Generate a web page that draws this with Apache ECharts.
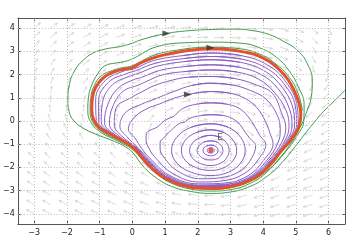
<!DOCTYPE html>
<html><head><meta charset="utf-8">
<script src="https://cdn.jsdelivr.net/npm/echarts@6/dist/echarts.min.js"></script>
<style>html,body{margin:0;padding:0;background:#fff}#c{width:351px;height:248px}</style>
</head><body><div id="c"></div>
<script>
const xTicks=[-3,-2,-1,0,1,2,3,4,5,6];
const yTicks=[-4,-3,-2,-1,0,1,2,3,4];
const equilibrium=[2.4,-1.27];
const limitCycle=[[2.4,3.11],[2.9,3.08],[3.4,2.98],[3.8,2.84],[4.2,2.55],[4.5,2.2],[4.75,1.8],[4.95,1.3],[5.1,0.75],[5.15,0.3],[5.12,-0.1],[5.0,-0.5],[4.8,-0.9],[4.55,-1.3],[4.3,-1.75],[4.05,-2.12],[3.75,-2.45],[3.4,-2.68],[3.0,-2.83],[2.5,-2.91],[2.0,-2.89],[1.5,-2.76],[1.0,-2.48],[0.6,-2.05],[0.3,-1.6],[0.05,-1.18],[-0.3,-0.85],[-0.7,-0.55],[-1.0,-0.3],[-1.18,0.05],[-1.24,0.5],[-1.22,1.0],[-1.12,1.45],[-0.9,1.85],[-0.6,2.1],[-0.3,2.22],[0.0,2.3],[0.25,2.5],[0.6,2.7],[1.0,2.86],[1.5,3.0],[2.0,3.08],[2.4,3.11]];
const spiralLoops=[
[[2.4,-1.16],[2.45,-1.17],[2.49,-1.21],[2.5,-1.27],[2.49,-1.33],[2.45,-1.37],[2.4,-1.38],[2.34,-1.37],[2.3,-1.33],[2.29,-1.27],[2.3,-1.21],[2.34,-1.17]],
[[2.4,-1.04],[2.51,-1.07],[2.59,-1.15],[2.62,-1.27],[2.59,-1.39],[2.51,-1.47],[2.4,-1.5],[2.28,-1.47],[2.19,-1.39],[2.16,-1.27],[2.19,-1.15],[2.28,-1.07]],
[[2.4,-0.86],[2.59,-0.91],[2.72,-1.07],[2.77,-1.27],[2.72,-1.47],[2.59,-1.63],[2.4,-1.68],[2.19,-1.63],[2.04,-1.47],[1.98,-1.27],[2.04,-1.07],[2.19,-0.91]],
[[2.4,-0.62],[2.68,-0.71],[2.88,-0.95],[2.96,-1.27],[2.88,-1.6],[2.68,-1.83],[2.4,-1.92],[2.08,-1.83],[1.84,-1.6],[1.75,-1.27],[1.84,-0.95],[2.08,-0.71]],
[[2.4,-0.38],[2.8,-0.5],[3.08,-0.83],[3.19,-1.27],[3.08,-1.7],[2.8,-2.01],[2.4,-2.13],[1.95,-2.01],[1.62,-1.7],[1.5,-1.27],[1.62,-0.83],[1.95,-0.5]],
[[2.4,-0.12],[2.93,-0.27],[3.31,-0.7],[3.45,-1.27],[3.31,-1.81],[2.93,-2.21],[2.4,-2.35],[1.8,-2.21],[1.36,-1.81],[1.2,-1.27],[1.36,-0.7],[1.8,-0.27]],
[[2.4,0.27],[2.76,0.24],[3.05,0.11],[3.27,-0.13],[3.45,-0.48],[3.6,-0.76],[3.77,-1.06],[3.65,-1.59],[3.35,-2.1],[2.84,-2.41],[2.1,-2.49],[1.38,-2.15],[0.93,-1.5],[0.85,-1.21],[0.85,-0.91],[0.95,-0.74],[1.13,-0.48],[1.31,-0.24],[1.48,-0.08],[1.58,-0.06],[1.77,0.12],[2.08,0.23]],
[[2.4,0.78],[2.87,0.73],[3.26,0.55],[3.53,0.2],[3.75,-0.26],[3.9,-0.63],[4.08,-1.01],[3.86,-1.64],[3.48,-2.21],[2.89,-2.55],[2.06,-2.63],[1.24,-2.27],[0.68,-1.54],[0.52,-1.2],[0.42,-0.81],[0.43,-0.54],[0.77,-0.25],[1.01,0.04],[1.27,0.2],[1.34,0.3],[1.57,0.56],[1.98,0.73]],
[[2.4,1.27],[2.98,1.2],[3.45,0.97],[3.81,0.57],[4.07,-0.02],[4.2,-0.5],[4.3,-0.98],[4.02,-1.68],[3.59,-2.31],[2.93,-2.66],[2.04,-2.71],[1.15,-2.35],[0.51,-1.57],[0.29,-1.19],[0.08,-0.73],[-0.12,-0.34],[0.08,0.18],[0.48,0.55],[0.84,0.74],[0.99,0.83],[1.36,1.02],[1.88,1.19]],
[[2.4,1.63],[3.06,1.55],[3.62,1.31],[4.09,0.94],[4.43,0.25],[4.52,-0.36],[4.45,-0.95],[4.11,-1.7],[3.64,-2.35],[2.95,-2.71],[2.03,-2.76],[1.11,-2.38],[0.45,-1.58],[0.2,-1.19],[-0.17,-0.67],[-0.38,-0.24],[-0.21,0.36],[0.29,0.73],[0.69,0.95],[0.85,1.04],[1.25,1.26],[1.81,1.53]],
[[2.4,1.92],[3.13,1.83],[3.74,1.58],[4.28,1.19],[4.56,0.35],[4.69,-0.29],[4.56,-0.94],[4.16,-1.72],[3.67,-2.38],[2.96,-2.74],[2.03,-2.79],[1.08,-2.41],[0.41,-1.58],[0.16,-1.18],[-0.33,-0.64],[-0.55,-0.18],[-0.5,0.55],[-0.02,1.02],[0.39,1.33],[0.56,1.46],[1.05,1.7],[1.73,1.89]],
[[2.4,2.2],[3.2,2.11],[3.85,1.81],[4.33,1.25],[4.7,0.45],[4.79,-0.24],[4.63,-0.93],[4.2,-1.73],[3.69,-2.39],[2.97,-2.76],[2.02,-2.81],[1.07,-2.42],[0.38,-1.59],[0.13,-1.18],[-0.44,-0.61],[-0.7,-0.13],[-0.6,0.61],[-0.29,1.27],[0.21,1.56],[0.41,1.69],[0.92,1.99],[1.68,2.14]],
[[2.4,2.42],[3.25,2.32],[3.94,2.0],[4.45,1.4],[4.8,0.53],[4.88,-0.21],[4.68,-0.92],[4.23,-1.73],[3.7,-2.41],[2.98,-2.78],[2.02,-2.83],[1.05,-2.44],[0.36,-1.59],[0.11,-1.18],[-0.53,-0.59],[-0.85,-0.07],[-0.75,0.71],[-0.44,1.41],[0.04,1.78],[0.28,1.88],[0.84,2.18],[1.64,2.35]],
[[2.4,2.64],[3.3,2.53],[4.02,2.17],[4.54,1.52],[4.9,0.6],[4.96,-0.17],[4.72,-0.91],[4.25,-1.74],[3.72,-2.42],[2.99,-2.79],[2.01,-2.85],[1.03,-2.45],[0.34,-1.59],[0.09,-1.18],[-0.58,-0.58],[-0.95,-0.03],[-0.91,0.8],[-0.6,1.57],[-0.08,1.93],[0.17,2.04],[0.75,2.36],[1.59,2.56]],
[[2.4,2.78],[3.33,2.67],[4.08,2.29],[4.62,1.63],[4.98,0.66],[5.02,-0.14],[4.75,-0.91],[4.27,-1.74],[3.73,-2.43],[2.99,-2.8],[2.01,-2.86],[1.03,-2.46],[0.33,-1.6],[0.08,-1.18],[-0.62,-0.57],[-1.03,-0.01],[-1.03,0.88],[-0.72,1.68],[-0.17,2.05],[0.09,2.16],[0.7,2.49],[1.57,2.69]],
[[2.4,2.93],[3.36,2.81],[4.14,2.41],[4.68,1.71],[5.03,0.7],[5.07,-0.12],[4.77,-0.9],[4.28,-1.75],[3.74,-2.44],[2.99,-2.81],[2.0,-2.87],[1.01,-2.47],[0.32,-1.6],[0.07,-1.18],[-0.65,-0.56],[-1.1,0.02],[-1.12,0.94],[-0.81,1.76],[-0.25,2.16],[0.04,2.24],[0.64,2.6],[1.54,2.82]]
];
const greenPath=[[6.5,1.33],[6.2,0.9],[5.85,0.42],[5.54,-0.09],[5.25,-0.6],[4.95,-1.15],[4.6,-1.75],[4.15,-2.35],[3.6,-2.82],[3.0,-3.06],[2.4,-3.12],[1.8,-3.04],[1.2,-2.82],[0.7,-2.42],[0.3,-1.9],[0.05,-1.42],[-0.2,-1.12],[-0.55,-0.88],[-1.0,-0.63],[-1.45,-0.35],[-1.78,0.0],[-1.93,0.4],[-1.97,0.9],[-1.92,1.6],[-1.75,2.2],[-1.5,2.62],[-1.2,2.93],[-0.83,3.1],[-0.24,3.25],[0.36,3.54],[1.04,3.77],[1.7,3.89],[2.34,3.94],[3.07,3.96],[3.66,3.9],[4.2,3.72],[4.6,3.45],[5.05,3.04],[5.35,2.47],[5.5,1.7],[5.47,1.04],[5.33,0.4],[5.12,-0.3],[4.85,-0.95],[4.5,-1.6],[4.05,-2.28],[3.55,-2.72],[3.0,-2.96],[2.4,-3.02],[1.8,-2.94],[1.2,-2.68],[0.75,-2.28],[0.35,-1.72],[0.02,-1.24],[-0.45,-0.86],[-0.95,-0.5],[-1.27,-0.05],[-1.36,0.5],[-1.34,1.0],[-1.24,1.55],[-1.05,2.05],[-0.84,2.38],[-0.5,2.5],[-0.24,2.56],[0.05,2.71],[0.74,3.2],[1.75,3.38],[2.4,3.4],[3.34,3.35],[3.9,3.15],[4.4,2.75],[4.8,2.15],[5.1,1.4],[5.25,0.7],[5.24,0.0],[5.05,-0.6],[4.7,-1.3],[4.2,-2.05],[3.6,-2.6],[3.0,-2.87],[2.4,-2.94],[1.8,-2.86],[1.2,-2.58],[0.7,-2.12],[0.35,-1.65],[0.05,-1.2],[-0.4,-0.84],[-0.9,-0.48],[-1.22,-0.02],[-1.29,0.5],[-1.27,1.0],[-1.17,1.5],[-0.95,1.95],[-0.6,2.18],[-0.3,2.3],[0.0,2.38],[0.6,2.8],[1.2,3.02],[2.4,3.18],[3.2,3.13],[3.9,2.88],[4.35,2.5],[4.8,1.88],[5.05,1.25],[5.2,0.45]];
const flowArrows=[[1.04,3.77],[2.39,3.16],[1.7,1.14]];
const fieldX=[-3,-2.5,-2,-1.5,-1,-0.5,0,0.5,1,1.5,2,2.5,3,3.5,4,4.5,5,5.5,6];
const fieldY=[-4,-3.6,-3.2,-2.8,-2.4,-2,-1.6,-1.2,-0.8,-0.4,0,0.4,0.8,1.2,1.6,2,2.4,2.8,3.2,3.6,4];
const fieldAngles=[
[152,150,148,145,142,139,135,130,124,118,111,103,94,86,77,69,62,56,50,45,41],
[153,151,149,146,143,139,135,129,123,116,107,98,89,79,70,62,55,49,44,40,36],
[155,153,150,147,144,140,135,129,121,113,103,93,82,72,63,55,48,43,38,35,31],
[156,154,151,148,145,140,134,128,119,109,98,85,74,63,54,47,41,37,33,29,27],
[158,155,153,150,146,141,134,126,116,104,90,76,64,54,46,40,35,31,27,25,22],
[159,157,154,151,147,141,134,124,111,96,80,65,53,44,37,32,28,25,22,20,18],
[162,160,157,153,149,142,133,121,104,85,67,52,42,34,29,25,22,19,17,16,14],
[164,162,159,155,150,142,131,113,90,66,49,37,30,25,21,18,16,14,13,12,11],
[167,165,163,159,154,146,131,106,74,49,34,26,21,17,15,13,11,10,9,8,8],
[171,170,168,165,161,153,136,97,51,30,21,16,13,11,9,8,7,6,6,5,5],
[176,175,174,173,171,166,151,75,23,13,9,7,5,4,4,3,3,3,2,2,2],
[181,181,182,182,183,184,189,333,354,357,358,358,359,359,359,359,359,359,359,359,359],
[186,187,188,191,194,201,220,280,327,341,347,350,352,353,354,355,355,356,356,357,357],
[190,192,194,197,201,209,224,254,295,321,333,340,344,347,349,350,351,352,353,353,354],
[193,195,197,200,203,209,218,232,256,284,308,322,331,337,340,343,345,347,348,349,350],
[194,196,198,200,203,207,212,220,232,249,270,291,308,320,328,333,336,338,340,341,342],
[194,195,197,198,200,203,206,210,215,222,232,245,261,279,295,308,315,319,323,326,330],
[194,195,196,197,199,201,203,205,208,212,217,223,231,242,255,270,284,295,303,310,315],
[196,197,198,199,200,202,204,206,208,211,214,218,223,230,238,247,257,267,276,284,292]
];

const fieldData=[];
fieldX.forEach((x,i)=>fieldY.forEach((y,j)=>fieldData.push([x,y,fieldAngles[i][j]])));
// each orbit drawn as a closed ring (last point wraps to the first ones), rings separated by gaps
const orbitRings=[];
spiralLoops.forEach(l=>{
  orbitRings.push(l[l.length-1]);
  l.forEach(p=>orbitRings.push(p));
  orbitRings.push(l[0]);
  orbitRings.push(l[1]);
  orbitRings.push('-');
});

function renderArrow(params,api){
  const p=api.coord([api.value(0),api.value(1)]);
  const sz=api.size([1,1]);
  const th=api.value(2)*Math.PI/180;
  const c=Math.cos(th),s=Math.sin(th);
  const L=0.3/Math.sqrt((c/sz[0])*(c/sz[0])+(s/sz[1])*(s/sz[1]));
  const tip=[p[0]+L*c,p[1]-L*s];
  const hl=L*0.33,a=0.45;
  const b1=[tip[0]-hl*Math.cos(th-a),tip[1]+hl*Math.sin(th-a)];
  const b2=[tip[0]-hl*Math.cos(th+a),tip[1]+hl*Math.sin(th+a)];
  const st={stroke:'#d2d2d2',lineWidth:0.75,fill:null};
  return {type:'group',children:[
    {type:'polyline',shape:{points:[p,tip]},style:st},
    {type:'polyline',shape:{points:[b1,tip,b2]},style:st}
  ]};
}

const chart=echarts.init(document.getElementById('c'),null,{renderer:'canvas'});
const axisCol='#555';
const fmt=v=>String(v).replace('-','\u2212');
function gridLines(){
  const d=[];
  xTicks.forEach(v=>d.push({xAxis:v}));
  yTicks.forEach(v=>d.push({yAxis:v}));
  return d;
}
chart.setOption({
  animation:false,
  grid:{left:11,right:6,top:18,bottom:24},
  xAxis:[
   {type:'value',min:-3.5,max:6.5,position:'bottom',axisLine:{onZero:false,lineStyle:{color:axisCol,width:1}},
    axisTick:{inside:true,length:3,customValues:xTicks,lineStyle:{color:axisCol}},
    axisLabel:{customValues:xTicks,color:'#222',fontSize:8,margin:5,fontFamily:'DejaVu Sans',formatter:fmt},splitLine:{show:false}},
   {type:'value',min:-3.5,max:6.5,position:'top',axisLine:{onZero:false,lineStyle:{color:axisCol}},
    axisTick:{inside:true,length:3,customValues:xTicks,lineStyle:{color:axisCol}},axisLabel:{show:false},splitLine:{show:false}}
  ],
  yAxis:[
   {type:'value',min:-4.44,max:4.44,position:'left',axisLine:{onZero:false,lineStyle:{color:axisCol}},
    axisTick:{inside:true,length:3,customValues:yTicks,lineStyle:{color:axisCol}},
    axisLabel:{customValues:yTicks,color:'#222',fontSize:8,margin:3,fontFamily:'DejaVu Sans',formatter:fmt},splitLine:{show:false}},
   {type:'value',min:-4.44,max:4.44,position:'right',axisLine:{onZero:false,lineStyle:{color:axisCol}},
    axisTick:{inside:true,length:3,customValues:yTicks,lineStyle:{color:axisCol}},axisLabel:{show:false},splitLine:{show:false}}
  ],
  series:[
   {type:'line',data:[],markLine:{silent:true,symbol:'none',label:{show:false},lineStyle:{color:'#bbb',type:[1,2],width:1},data:gridLines()},z:1},
   {type:'custom',data:fieldData,renderItem:renderArrow,clip:true,silent:true,z:2},
   {type:'line',data:orbitRings,smooth:0.4,connectNulls:false,showSymbol:false,lineStyle:{color:'#8a5cc4',width:1},z:3},
   {type:'line',data:greenPath,smooth:0.45,showSymbol:false,lineStyle:{color:'#3f9a48',width:1},z:4},
   {type:'line',data:limitCycle,smooth:0.45,showSymbol:false,lineStyle:{color:'#e0522c',width:3},z:5},
   {type:'scatter',data:[equilibrium],symbolSize:5,itemStyle:{color:'#e0302c'},z:6,
    label:{show:true,formatter:'E',position:[9,-15],fontSize:9,color:'#333',fontFamily:'DejaVu Sans'}},
   {type:'scatter',data:flowArrows,symbol:'triangle',symbolRotate:-90,symbolSize:[6,8],itemStyle:{color:'#333'},z:7}
  ]
});
</script></body></html>
